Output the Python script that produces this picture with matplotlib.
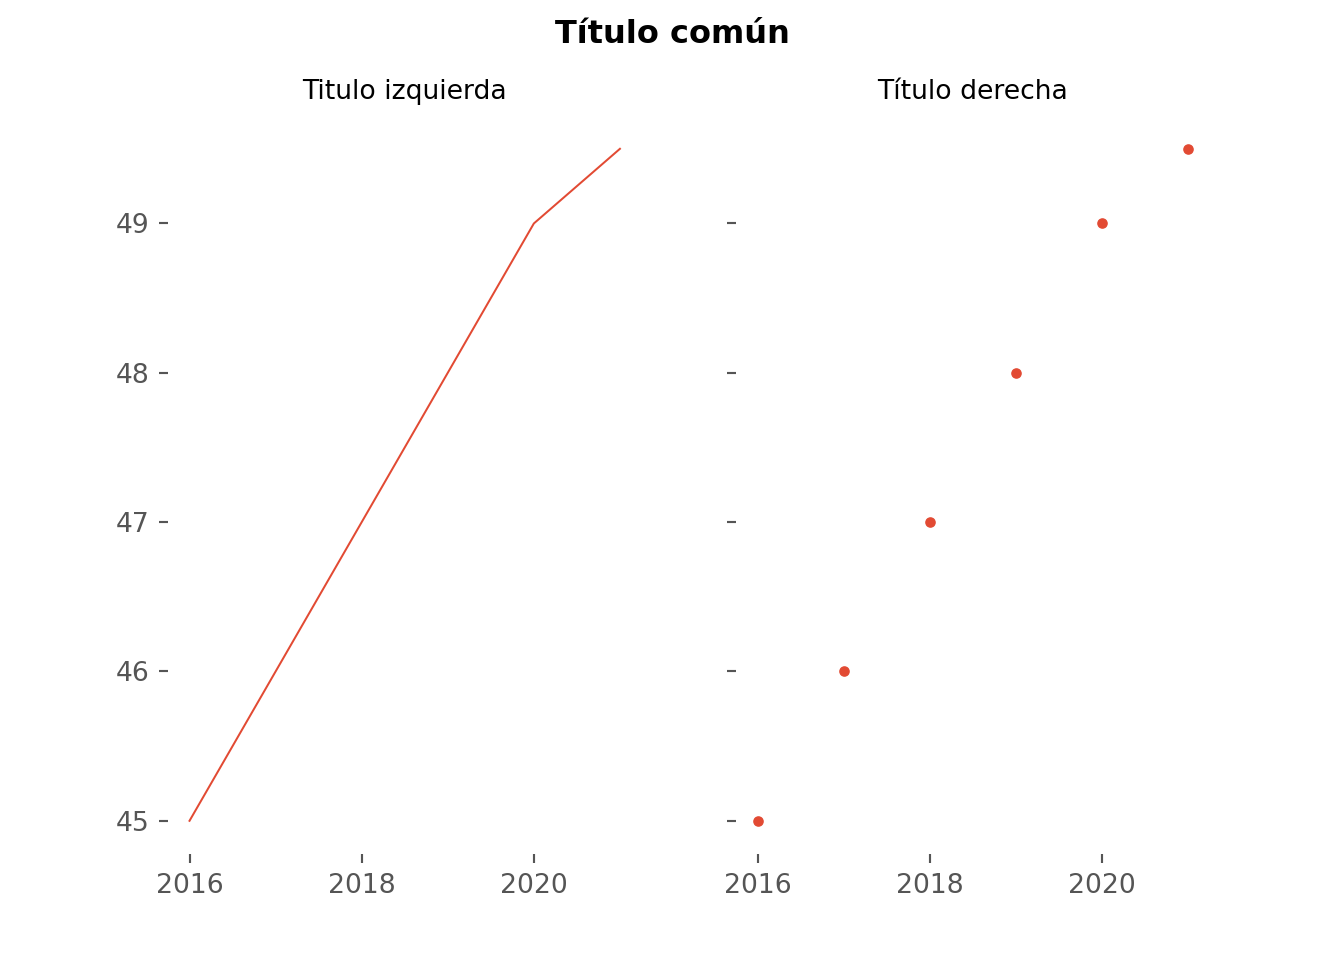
import matplotlib.pyplot as plt

# Data
years = [2016, 2017, 2018, 2019, 2020, 2021]
values = [45, 46, 47, 48, 49, 49.5]

plt.style.use('ggplot')

fig, (ax1, ax2) = plt.subplots(1, 2, sharey=True, figsize=(7, 5), dpi=192)
fig.suptitle('Título común', fontweight='bold')

ax1.plot(years, values, color='#E24A33', linewidth=0.75)
ax1.set_title('Titulo izquierda', fontsize=10)

ax2.scatter(years, values, color='#E24A33', s=12)
ax2.set_title('Título derecha', fontsize=10)

for ax in (ax1, ax2):
    ax.set_facecolor('white')
    ax.grid(False)
    ax.set_xticks([2016, 2018, 2020])
    for s in ax.spines.values():
        s.set_visible(False)

plt.savefig('out.png')
